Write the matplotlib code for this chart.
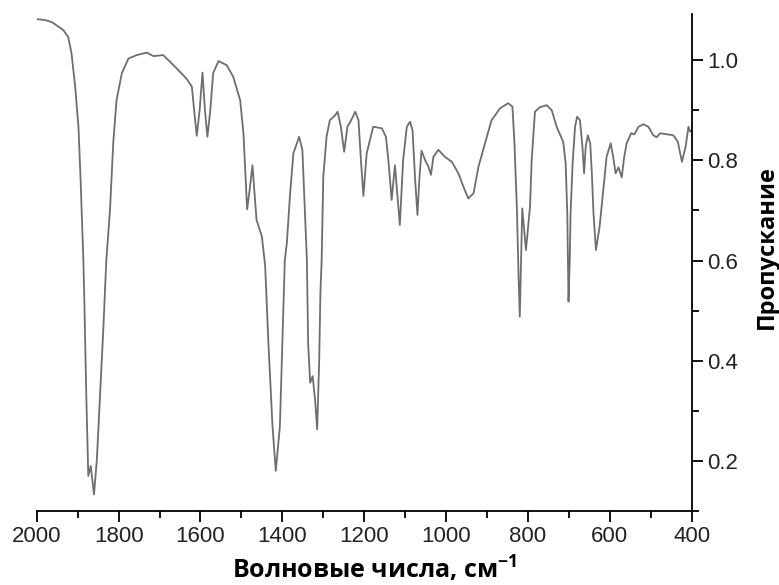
import matplotlib
matplotlib.use("Agg")
import matplotlib.pyplot as plt
from matplotlib.ticker import MultipleLocator

# IR spectrum (wavenumber, cm-1 -> transmittance)
wavenumber = [
    2000, 1980, 1963, 1935, 1923, 1915, 1906, 1898, 1893, 1886, 1884, 1879,
    1874, 1868, 1860, 1853, 1845, 1837, 1830, 1821, 1813, 1805, 1792, 1776,
    1756, 1731, 1715, 1691, 1666, 1634, 1621, 1613, 1609, 1602, 1595, 1589,
    1583, 1576, 1569, 1556, 1536, 1520, 1503, 1495, 1489, 1486, 1480, 1473,
    1463, 1450, 1442, 1434, 1424, 1416, 1406, 1400, 1394, 1389, 1381, 1373,
    1359, 1351, 1345, 1340, 1337, 1332, 1326, 1320, 1315, 1310, 1307, 1304,
    1300, 1292, 1284, 1271, 1265, 1257, 1249, 1241, 1232, 1222, 1214, 1208,
    1202, 1194, 1178, 1157, 1147, 1141, 1133, 1125, 1113, 1105, 1096, 1088,
    1082, 1076, 1070, 1065, 1060, 1051, 1043, 1037, 1031, 1019, 1003, 986,
    970, 958, 946, 933, 921, 905, 889, 868, 848, 838, 833, 827, 823, 820,
    817, 814, 805, 795, 791, 783, 771, 754, 742, 730, 714, 708, 704, 701,
    698, 696, 691, 685, 680, 673, 667, 663, 659, 654, 648, 644, 640, 634,
    625, 616, 608, 598, 592, 586, 579, 571, 565, 559, 548, 540, 530, 518,
    506, 494, 486, 477, 461, 445, 434, 424, 415, 408, 404, 400,
]
transmittance = [
    1.082, 1.080, 1.076, 1.060, 1.046, 1.014, 0.947, 0.867, 0.767, 0.600, 0.535, 0.336,
    0.170, 0.190, 0.133, 0.203, 0.336, 0.468, 0.600, 0.700, 0.835, 0.920, 0.974, 1.003,
    1.010, 1.015, 1.008, 1.010, 0.990, 0.963, 0.947, 0.880, 0.849, 0.900, 0.975, 0.900,
    0.847, 0.900, 0.974, 0.998, 0.990, 0.967, 0.920, 0.854, 0.755, 0.702, 0.740, 0.790,
    0.681, 0.648, 0.590, 0.435, 0.269, 0.180, 0.269, 0.436, 0.600, 0.635, 0.734, 0.814,
    0.847, 0.820, 0.700, 0.600, 0.435, 0.356, 0.369, 0.322, 0.263, 0.400, 0.535, 0.600,
    0.767, 0.847, 0.880, 0.890, 0.897, 0.867, 0.817, 0.867, 0.880, 0.897, 0.880, 0.800,
    0.729, 0.814, 0.867, 0.864, 0.847, 0.800, 0.721, 0.790, 0.671, 0.800, 0.867, 0.877,
    0.860, 0.767, 0.691, 0.767, 0.819, 0.800, 0.787, 0.771, 0.807, 0.821, 0.807, 0.797,
    0.774, 0.748, 0.724, 0.734, 0.787, 0.834, 0.880, 0.904, 0.914, 0.907, 0.834, 0.701,
    0.568, 0.488, 0.600, 0.704, 0.621, 0.708, 0.800, 0.897, 0.906, 0.910, 0.900, 0.867,
    0.837, 0.794, 0.694, 0.518, 0.600, 0.694, 0.794, 0.867, 0.887, 0.880, 0.827, 0.774,
    0.827, 0.850, 0.834, 0.774, 0.694, 0.621, 0.668, 0.741, 0.807, 0.834, 0.807, 0.774,
    0.786, 0.766, 0.807, 0.834, 0.854, 0.852, 0.867, 0.872, 0.867, 0.850, 0.846, 0.854,
    0.852, 0.850, 0.837, 0.797, 0.827, 0.867, 0.857, 0.860,
]

x_ticks = [2000, 1800, 1600, 1400, 1200, 1000, 800, 600, 400]
y_ticks = [0.2, 0.4, 0.6, 0.8, 1.0]

plt.rcParams["mathtext.fontset"] = "custom"
plt.rcParams["mathtext.rm"] = "Open Sans:bold"
plt.rcParams["mathtext.default"] = "rm"

fig = plt.figure(figsize=(7.79, 5.85), dpi=100)
ax = fig.add_axes([0.0471, 0.1265, 0.8409, 0.8495])

ax.plot(wavenumber, transmittance, color="#6e6e6e", linewidth=1.3,
        solid_joinstyle="round")

ax.set_xlim(2000, 400)
ax.set_ylim(0.1, 1.092)

for side in ("left", "top"):
    ax.spines[side].set_visible(False)
for side in ("right", "bottom"):
    ax.spines[side].set_linewidth(1.3)

ax.yaxis.tick_right()
ax.set_xticks(x_ticks)
ax.set_yticks(y_ticks)
ax.set_yticklabels([f"{v:.1f}" for v in y_ticks])
ax.xaxis.set_minor_locator(MultipleLocator(100))
ax.yaxis.set_minor_locator(MultipleLocator(0.1))
ax.tick_params(which="major", direction="out", length=8, width=1.3,
               labelsize=16, pad=3)
ax.tick_params(which="minor", direction="out", length=5, width=1.3)
for lab in ax.get_xticklabels() + ax.get_yticklabels():
    lab.set_family("Liberation Sans")
    lab.set_color("#222222")

ax.set_xlabel("Волновые числа, см$^{-1}$", family="Open Sans",
              fontweight="bold", fontsize=18)
ax.xaxis.set_label_coords(0.516, -0.087)

# y label sits at the far right edge of the figure
fig.text(767 / 779, 1 - 247 / 585, "Пропускание", family="Open Sans",
         fontweight="bold", fontsize=17, rotation=90,
         ha="center", va="center")

fig.savefig("out.png", dpi=100)
